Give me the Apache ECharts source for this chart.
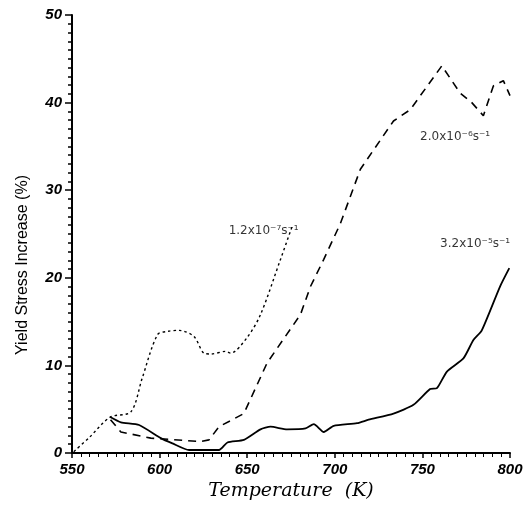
<!DOCTYPE html>
<html>
<head>
<meta charset="utf-8">
<script src="https://cdn.jsdelivr.net/npm/echarts@6/dist/echarts.min.js"></script>
<style>
  html, body { margin: 0; padding: 0; background: #fff; }
  #main { width: 532px; height: 506px; }
</style>
</head>
<body>
<div id="main"></div>
<script>
// 1.2x10^-7 s^-1 (dotted)
const slowT = [551, 560, 571.8, 583.6, 590, 598.8, 605, 611.1, 619.6, 625.3, 629.2, 637.7, 640.5, 650, 657.6, 669, 675.7];
const slowV = [0.15, 1.8, 4.1, 4.7, 8.5, 13.5, 13.9, 14.0, 13.3, 11.4, 11.3, 11.6, 11.4, 13.2, 15.8, 22.1, 25.9];

// 2.0x10^-6 s^-1 (dashed)
const midT = [572, 577.9, 595, 623.5, 628.2, 633.9, 648.1, 661.4, 680.4, 686.1, 693.7, 703.2, 714.6, 733.5, 743.1, 761.1, 771.5, 778.2, 784.8, 790.5, 796.2, 800];
const midV = [3.8, 2.4, 1.7, 1.3, 1.5, 3.0, 4.5, 10.3, 15.8, 19.0, 22.1, 26.2, 32.4, 37.9, 39.2, 44.2, 41.1, 40.0, 38.5, 41.9, 42.5, 40.8];

// 3.2x10^-5 s^-1 (solid)
const fastT = [571.8, 577.9, 588.3, 600.7, 607.3, 616.8, 633.9, 638.7, 648.1, 657.6, 663.3, 672.8, 683.3, 688, 693.7, 699.4, 712.7, 719.3, 733.5, 744.9, 754.4, 758.3, 764, 773.4, 779.1, 783.9, 794.3, 799.6];
const fastV = [4.1, 3.5, 3.2, 1.7, 1.1, 0.34, 0.34, 1.2, 1.5, 2.7, 3.0, 2.7, 2.8, 3.3, 2.4, 3.1, 3.4, 3.8, 4.5, 5.5, 7.3, 7.4, 9.3, 10.8, 12.9, 14.0, 19.0, 21.1];

// curve labels: [T, value, text]
const curveLabels = [
  [639.4, 25.4, '1.2x10⁻⁷s⁻¹'],
  [748.7, 36.1, '2.0x10⁻⁶s⁻¹'],
  [760.1, 23.9, '3.2x10⁻⁵s⁻¹']
];

const pairs = (xs, ys) => xs.map((x, i) => [x, ys[i]]);

let chart = echarts.init(document.getElementById('main'));

const tickFont = {
  fontFamily: 'Liberation Sans',
  fontStyle: 'italic',
  fontWeight: 'bold',
  fontSize: 15,
  color: '#000'
};

let option = {
  backgroundColor: '#fff',
  animation: false,
  grid: { left: 72, right: 22, top: 15, bottom: 53 },
  xAxis: {
    type: 'value',
    min: 550,
    max: 800,
    interval: 50,
    name: 'Temperature  (K)',
    nameLocation: 'middle',
    nameGap: 28,
    nameTextStyle: {
      fontFamily: 'DejaVu Serif',
      fontStyle: 'italic',
      fontSize: 19,
      color: '#000'
    },
    axisLine: { lineStyle: { color: '#000', width: 2 } },
    axisTick: { show: true, length: 5, lineStyle: { color: '#000', width: 1.5 } },
    minorTick: { show: true, splitNumber: 10, length: 4, lineStyle: { color: '#000', width: 1 } },
    axisLabel: Object.assign({ margin: 9 }, tickFont),
    splitLine: { show: false }
  },
  yAxis: {
    type: 'value',
    min: 0,
    max: 50,
    interval: 10,
    axisLine: { show: true, lineStyle: { color: '#000', width: 2 } },
    axisTick: { show: true, length: 7, lineStyle: { color: '#000', width: 1.5 } },
    minorTick: { show: true, splitNumber: 10, length: 4, lineStyle: { color: '#000', width: 1.5 } },
    axisLabel: Object.assign({ margin: 10 }, tickFont),
    splitLine: { show: false }
  },
  graphic: [
    {
      type: 'text',
      x: 23,
      y: 265,
      rotation: Math.PI / 2,
      style: {
        text: 'Yield Stress Increase (%)',
        fontFamily: 'Liberation Sans',
        fontSize: 16,
        fill: '#000',
        align: 'center',
        verticalAlign: 'middle'
      }
    }
  ],
  series: [
    {
      name: '1.2x10-7',
      type: 'line',
      data: pairs(slowT, slowV),
      symbol: 'none',
      smooth: 0.3,
      lineStyle: { color: '#000', width: 1.4, type: [2.5, 3] }
    },
    {
      name: '2.0x10-6',
      type: 'line',
      data: pairs(midT, midV),
      symbol: 'none',
      smooth: false,
      lineStyle: { color: '#000', width: 1.6, type: [8, 6] }
    },
    {
      name: '3.2x10-5',
      type: 'line',
      data: pairs(fastT, fastV),
      symbol: 'none',
      smooth: 0.2,
      lineStyle: { color: '#000', width: 1.8 }
    },
    {
      type: 'scatter',
      symbolSize: 0,
      silent: true,
      data: curveLabels.map(d => ({ value: [d[0], d[1]], name: d[2] })),
      label: {
        show: true,
        position: 'right',
        distance: 0,
        formatter: p => p.name,
        fontFamily: 'DejaVu Sans',
        fontSize: 12,
        color: '#000'
      }
    }
  ]
};

chart.setOption(option);
</script>
</body>
</html>
